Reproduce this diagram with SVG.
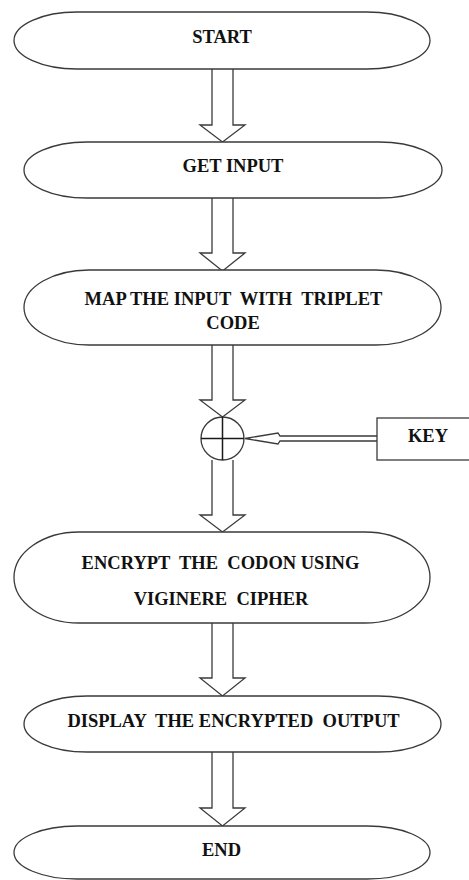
<svg xmlns="http://www.w3.org/2000/svg" width="469" height="880" viewBox="0 0 469 880" font-family="'Liberation Serif', 'DejaVu Serif', serif">
<style>
.n{fill:#fff;stroke:#3a3a3a;stroke-width:1.3}
.a{fill:#fff;stroke:#3a3a3a;stroke-width:1.3;stroke-linejoin:miter}
.l{fill:none;stroke:#1a1a1a;stroke-width:1.5}
text{font-weight:bold;font-size:18.5px;fill:#111;text-anchor:middle;white-space:pre}
</style>
<rect width="469" height="880" fill="#fff"/>
<g id="connectors">
<path class="a" d="M212,69 V125 H200 L222.5,142 L245,125 H233 V69"/>
<path class="a" d="M212,198 V253 H200 L222.5,271 L245,253 H233 V198"/>
<path class="a" d="M212,345 V400 H200 L222.5,417 L245,400 H233 V345"/>
<path class="a" d="M212,460 V515 H200 L222.5,532 L245,515 H233 V460"/>
<path class="a" d="M212,623 V678 H200 L222.5,696 L245,678 H233 V623"/>
<path class="a" d="M212,752 V808 H200 L222.5,826 L245,808 H233 V752"/>
<path class="a" d="M377,436 H280 L278,433 L245,438.5 L278,444 L280,441 H377"/>
</g>
<g id="start"><rect class="n" x="14" y="12" width="416" height="57" rx="63" ry="28.5"/><text x="222" y="42.5">START</text></g>
<g id="get-input"><rect class="n" x="24" y="142" width="418" height="56" rx="63" ry="28"/><text x="233" y="171.5">GET INPUT</text></g>
<g id="map"><rect class="n" x="24" y="270" width="417" height="75" rx="65" ry="37.5"/><text x="233.5" y="305" xml:space="preserve">MAP THE INPUT  WITH  TRIPLET</text><text x="233" y="329">CODE</text></g>
<g id="xor"><circle class="n" cx="222.5" cy="438.5" r="21.5"/><path class="l" d="M222.5,417 V460 M201,438.5 H244"/></g>
<g id="key"><rect class="n" x="377" y="418" width="100" height="42"/><text x="428" y="441.5">KEY</text></g>
<g id="encrypt"><rect class="n" x="14" y="532" width="416" height="91" rx="65" ry="45.5"/><text x="220.5" y="569" xml:space="preserve">ENCRYPT  THE  CODON USING</text><text x="221" y="605" xml:space="preserve">VIGINERE  CIPHER</text></g>
<g id="display"><rect class="n" x="24" y="696" width="417" height="56" rx="63" ry="28"/><text x="233.5" y="726.5" xml:space="preserve">DISPLAY  THE ENCRYPTED  OUTPUT</text></g>
<g id="end"><rect class="n" x="14" y="826" width="416" height="53" rx="63" ry="26.5"/><text x="221.5" y="856">END</text></g>
</svg>
